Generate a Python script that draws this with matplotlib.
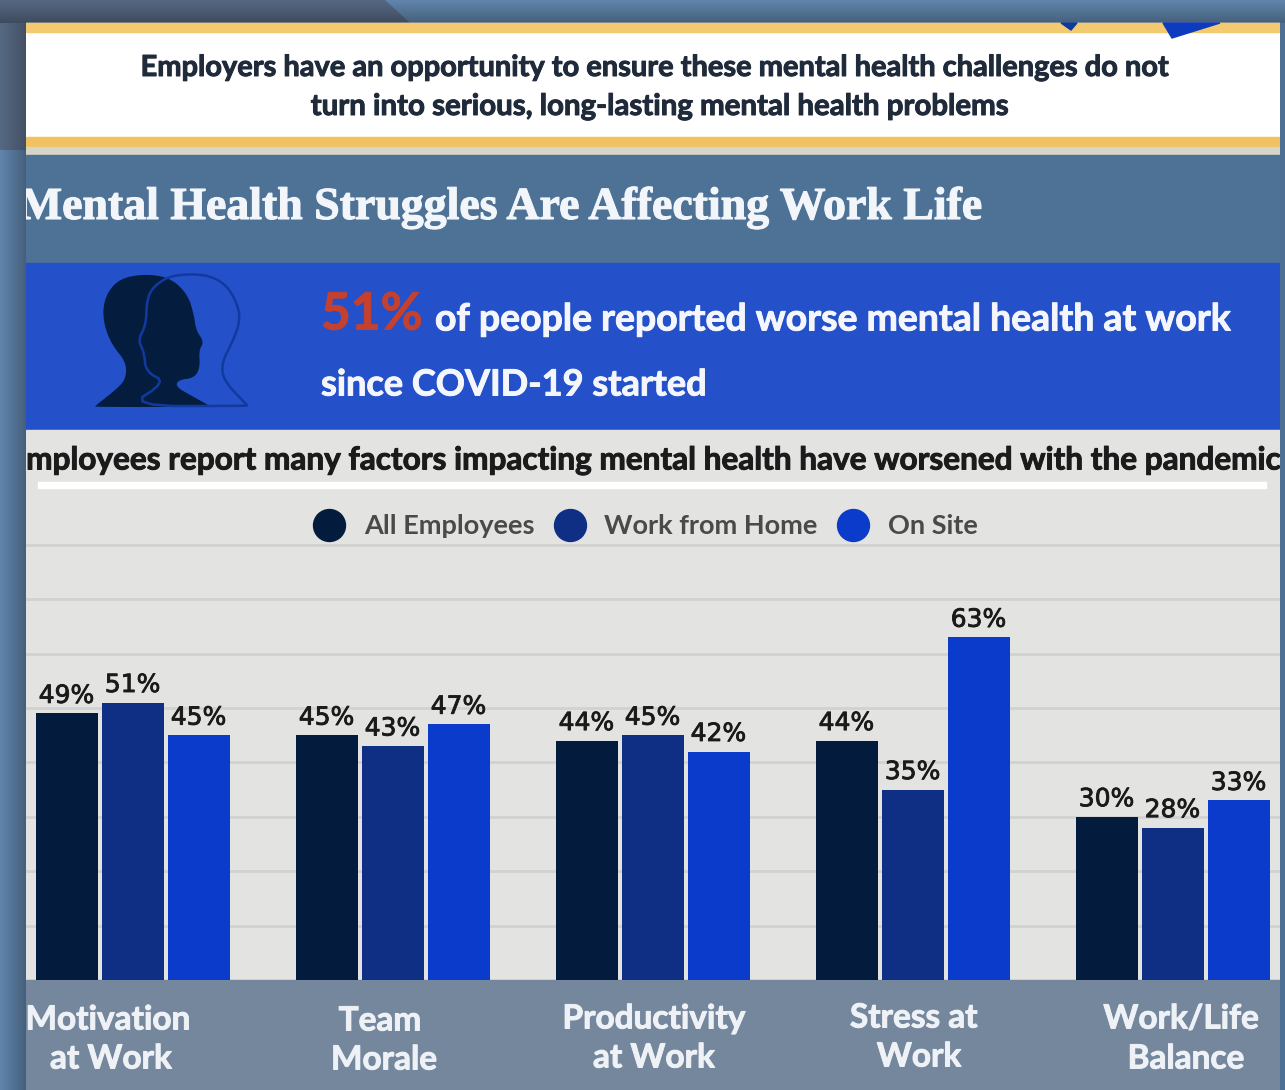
import numpy as np
import matplotlib
matplotlib.use("Agg")
import matplotlib.pyplot as plt
import matplotlib.patheffects as pe
from matplotlib.lines import Line2D
from matplotlib.patches import Polygon, Rectangle

categories = [("Motivation", "at Work"), ("Team", "Morale"), ("Productivity", "at Work"),
              ("Stress at", "Work"), ("Work/Life", "Balance")]
series_names = ["All Employees", "Work from Home", "On Site"]
all_employees = [49, 45, 44, 44, 30]
work_from_home = [51, 43, 45, 35, 28]
on_site = [45, 47, 42, 63, 33]
series_values = [all_employees, work_from_home, on_site]
series_colors = ["#031c3d", "#0f2f85", "#0a3bcb"]

# Category caption placement, per line, in pixels
top_line_x = [108, 380, 654, 914, 1181]
bottom_line_x = [111, 384, 654, 919, 1186]
top_line_y = [1020, 1021, 1019, 1018, 1019]
bottom_line_y = [1059, 1060, 1058, 1057, 1059]

W, H = 1285, 1090
plt.rcParams["font.family"] = ["Lato", "DejaVu Sans"]
fig = plt.figure(figsize=(W / 100, H / 100), dpi=100)


def pixel_axes(x0, y0, x1, y1, zorder=0):
    """Axes whose data coordinates are image pixels, y running downward."""
    ax = fig.add_axes([x0 / W, 1 - y1 / H, (x1 - x0) / W, (y1 - y0) / H], zorder=zorder)
    ax.set_xlim(x0, x1)
    ax.set_ylim(y1, y0)
    ax.axis("off")
    return ax


def thick(color, width=0.7):
    """Stroke that gives the bold text a heavier weight."""
    return [pe.withStroke(linewidth=width, foreground=color)]


def smooth(points, rounds=3):
    """Chaikin corner cutting for the closed icon outlines."""
    pts = np.array(points, dtype=float)
    for _ in range(rounds):
        nxt = np.roll(pts, -1, axis=0)
        pts = np.column_stack([0.75 * pts + 0.25 * nxt, 0.25 * pts + 0.75 * nxt]).reshape(-1, 2)
    return pts


# Page backdrop behind the card
bg = pixel_axes(0, 0, W, H)
across = np.linspace(0, 1, 26)[None, :, None]
down = np.linspace(0, 1, 24)[:, None, None]
blue = np.array([0.37, 0.51, 0.66])[None, None, :]
slate = np.array([0.33, 0.40, 0.50])[None, None, :]
bg.imshow(blue * (1.02 - 0.28 * across), extent=(0, 26, H, 150), aspect="auto", zorder=1)
bg.imshow(slate * (1.02 - 0.22 * across), extent=(0, 26, 150, 23), aspect="auto", zorder=1)
bg.imshow(blue * (1.02 - 0.28 * down), extent=(0, W, 23, 0), aspect="auto", zorder=1)
dark = bg.imshow(slate * (1.02 - 0.28 * down), extent=(0, 410, 23, 0), aspect="auto", zorder=2)
dark.set_clip_path(Polygon([(0, 0), (385, 0), (410, 23), (0, 23)], transform=bg.transData))
bg.add_patch(Rectangle((1280, 23), 5, H, color="#4c6f93", zorder=1))
bg.set_xlim(0, W)
bg.set_ylim(H, 0)

# Card panels, clipped at the card edges
p = pixel_axes(26, 0, 1280, H, zorder=1)
p.add_patch(Rectangle((26, 23), 1254, 127, color="#ffffff"))
p.add_patch(Rectangle((26, 23), 1254, 9, color="#f3ca70"))
p.add_patch(Rectangle((26, 137), 1254, 10, color="#f2c160"))
p.add_patch(Rectangle((26, 147), 1254, 8, color="#d5d5c8"))
p.add_patch(Rectangle((26, 155), 1254, 108, color="#4e7296"))
p.add_patch(Rectangle((26, 263), 1254, 167, color="#2451c9"))
p.add_patch(Rectangle((26, 430), 1254, 550, color="#e3e3e2"))
p.add_patch(Rectangle((38, 482), 1228, 6, color="#ffffff"))
p.add_patch(Rectangle((26, 980), 1254, 110, color="#74879c"))
p.add_patch(Polygon([(1061, 23), (1077, 23), (1071, 30)], color="#0e3a9a"))
p.add_patch(Polygon([(1163, 23), (1220, 23), (1172, 38)], color="#0c3bc0"))

ink = "#1f2a3a"
p.text(654, 68, "Employers have an opportunity to ensure these mental health challenges do not",
       ha="center", va="center", fontsize=20.9, fontweight="bold", color=ink, clip_on=True,
       path_effects=thick(ink))
p.text(658, 107, "turn into serious, long-lasting mental health problems",
       ha="center", va="center", fontsize=21.2, fontweight="bold", color=ink, clip_on=True,
       path_effects=thick(ink))
p.text(502, 208, "Mental Health Struggles Are Affecting Work Life", ha="center", va="center",
       fontsize=33, fontweight="bold", family="Liberation Serif", color="#f2f6fa", clip_on=True,
       path_effects=thick("#f2f6fa", 0.8))
p.text(321, 315, "51%", ha="left", va="center", fontsize=37, fontweight="bold", color="#c4402f",
       path_effects=thick("#c4402f"))
p.text(435, 320, "of people reported worse mental health at work", ha="left", va="center",
       fontsize=26.9, fontweight="bold", color="#f4f6fb", path_effects=thick("#f4f6fb"))
p.text(321, 385, "since COVID-19 started", ha="left", va="center",
       fontsize=26, fontweight="bold", color="#f4f6fb", path_effects=thick("#f4f6fb"))
p.text(8, 460, "Employees report many factors impacting mental health have worsened with the pandemic",
       ha="left", va="center", fontsize=22.7, fontweight="bold", color="#1b1b1b", clip_on=True,
       path_effects=thick("#1b1b1b"))

# Overlapping head silhouettes
solid_head = [(95, 406), (118, 388), (126, 378), (126, 362), (112, 345), (104, 325), (103, 305),
              (110, 288), (124, 277), (150, 274), (172, 279), (188, 295), (194, 315), (196, 330),
              (204, 342), (199, 350), (200, 368), (194, 378), (178, 380), (176, 387), (192, 396),
              (210, 406), (210, 407), (95, 407)]
outline_head = [(128, 406), (166, 382), (146, 372), (144, 352), (138, 340), (146, 325), (147, 298),
                (155, 285), (172, 275), (205, 274), (226, 284), (238, 305), (240, 322), (232, 343),
                (222, 362), (223, 380), (247, 405), (247, 406)]
p.add_patch(Polygon(smooth(solid_head, 2), closed=True, fc="#041d3f", ec="none", zorder=3))
p.add_patch(Polygon(smooth(outline_head, 2), closed=True, fc="none", ec="#123a9e", lw=1.8, zorder=4,
                    joinstyle="round"))

# Grouped bars: one value unit spans 5.44 px, one group 260 px
chart = fig.add_axes([26 / W, 1 - 980 / H, 1254 / W, 490 / H], zorder=2)
chart.patch.set_alpha(0)
chart.set_xlim(-106.5 / 260, 1147.5 / 260)
chart.set_ylim(0, 490 / 5.44)
x = np.arange(len(categories))
offset = 66 / 260
handles = []
for i, (name, values, color) in enumerate(zip(series_names, series_values, series_colors)):
    bars = chart.bar(x + (i - 1) * offset, values, width=62 / 260, color=color, label=name, zorder=3)
    texts = chart.bar_label(bars, labels=[f"{v}%" for v in values], padding=4, fontsize=18,
                            family="DejaVu Sans", color="#1a1a1a", zorder=4)
    for t in texts:
        t.set_path_effects(thick("#1a1a1a", 0.6))
    handles.append(Line2D([], [], marker="o", ls="none", ms=23, color=color))
chart.set_yticks(np.arange(10, 90, 10))
chart.set_xticks([])
chart.tick_params(left=False, labelleft=False)
chart.grid(axis="y", color="#d2d2d2", lw=2, zorder=0)
for s in chart.spines.values():
    s.set_visible(False)
legend = chart.legend(handles, series_names, ncol=3, loc="center",
                      bbox_to_anchor=(614 / 1254, 1 - 36 / 490), frameon=False,
                      handletextpad=0.28, columnspacing=0.3,
                      labelcolor="#4a4a4a", prop={"weight": "bold", "size": 19.5})

for (top, bottom), tx, bx, ty, by in zip(categories, top_line_x, bottom_line_x, top_line_y, bottom_line_y):
    for label, cx, cy in ((top, tx, ty), (bottom, bx, by)):
        p.text(cx, cy, label, ha="center", va="center", fontsize=24, fontweight="bold",
               color="#eef1f5", clip_on=True, zorder=5, path_effects=thick("#eef1f5"))

fig.savefig("out.png", dpi=100)
